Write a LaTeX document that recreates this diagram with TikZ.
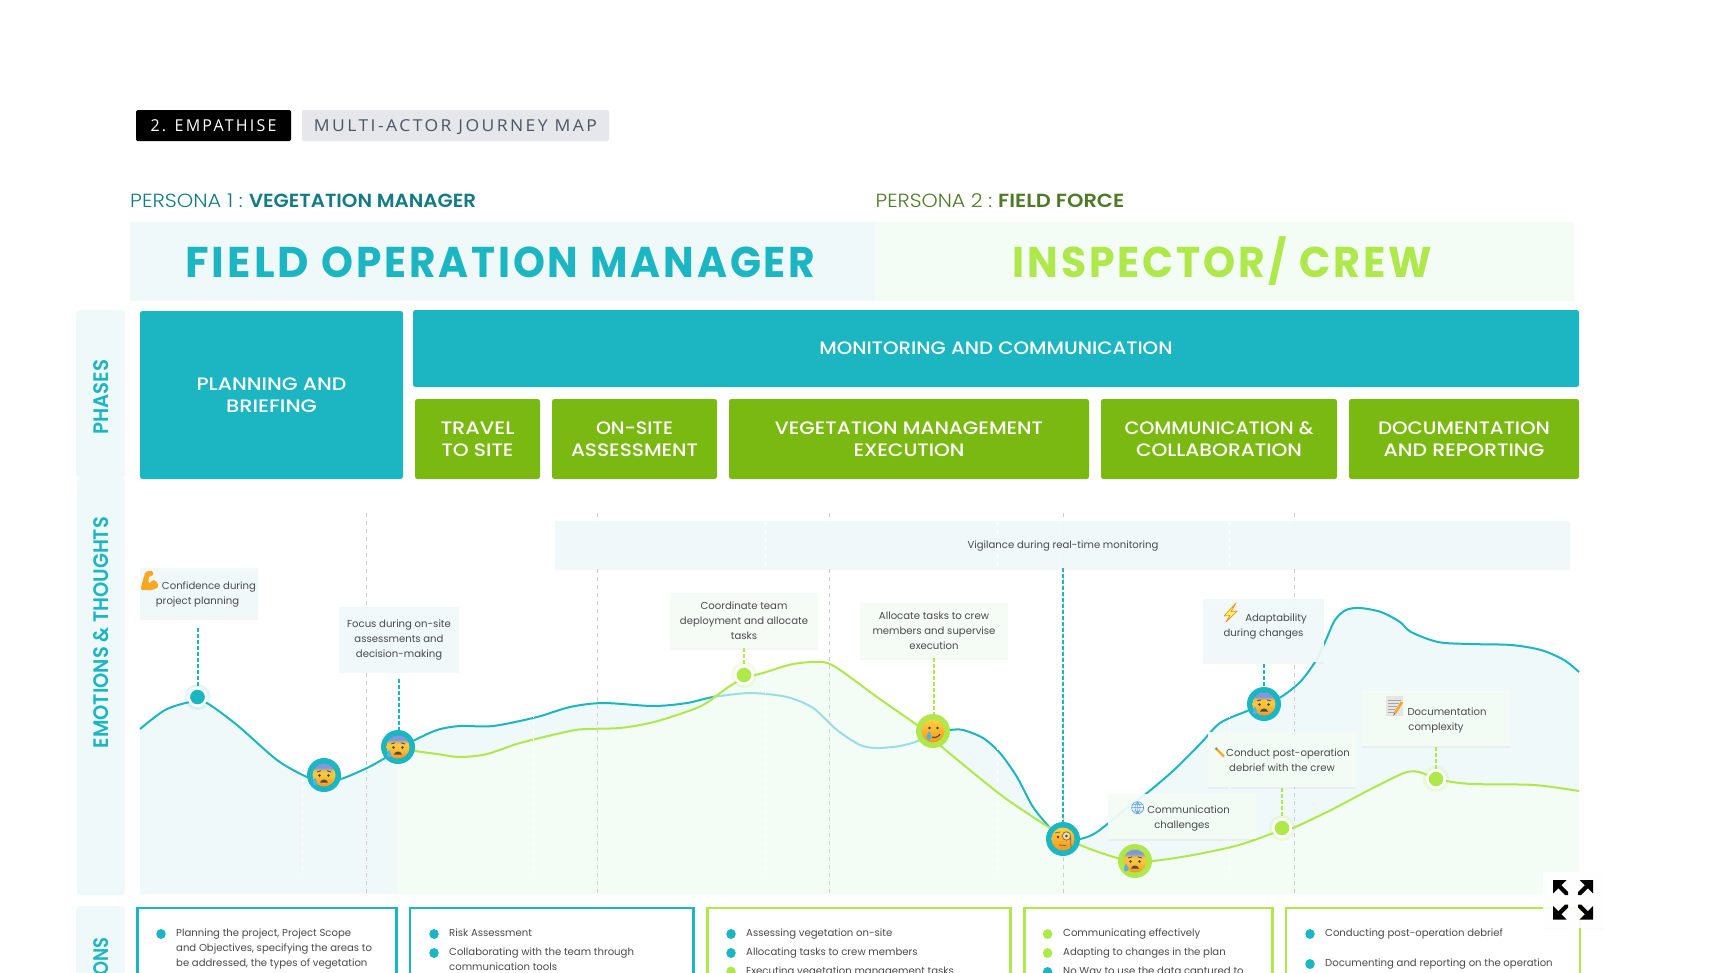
\documentclass[tikz,border=0pt]{standalone}
\usepackage{fontspec}
\usepackage{graphicx}
\usetikzlibrary{shadows,shapes.geometric}
\setmainfont{Poppins}
\newfontfamily\medf{Poppins Medium}
\newfontfamily\semif{Poppins SemiBold}
\newfontfamily\lightf{Poppins Light}
\newfontfamily\titlef{Poppins}[LetterSpace=7,UprightFont=* Bold]
\newfontfamily\tagf{Open Sans}[LetterSpace=14]
\definecolor{teal}{HTML}{1BB6C1}
\definecolor{lime}{HTML}{AEE84B}
\definecolor{leaf}{HTML}{7AB911}
\definecolor{paleblue}{HTML}{F0F9FA}
\definecolor{palegreen}{HTML}{F4FDF5}
\definecolor{bodytxt}{HTML}{4A4A4A}
\definecolor{ptealtxt}{HTML}{127B85}
\definecolor{pleaftxt}{HTML}{4F7A28}
\definecolor{tagbg}{HTML}{E5E7EB}
\definecolor{tagtxt}{HTML}{4B5563}
\definecolor{facetop}{HTML}{8298DC}
\definecolor{facemid}{HTML}{FBC53C}
\definecolor{facelow}{HTML}{F7951E}
\definecolor{faceyel}{HTML}{FFD23F}
\definecolor{dropblue}{HTML}{4FB3E8}
\definecolor{muscle}{HTML}{F7A823}
\pgfdeclareverticalshading{sweatshade}{100bp}{color(0bp)=(facelow); color(25bp)=(facelow); color(48bp)=(facemid); color(58bp)=(facemid); color(66bp)=(facetop); color(75bp)=(facetop); color(100bp)=(facetop)}
\newcommand{\fitw}[2]{\resizebox{#1pt}{\height}{#2}}
\tikzset{
  x=1pt,y=-1pt,
  block/.style={rounded corners=2.5pt,text=white,align=center,inner sep=0pt,font=\medf\fontsize{18}{22}\selectfont},
  sidepanel/.style={fill=paleblue,rounded corners=4pt},
  sidelabel/.style={rotate=90,text=teal,inner sep=0pt,font=\semif\fontsize{21}{25}\selectfont},
  txt/.style={text=bodytxt,align=center,inner sep=0pt,font=\fontsize{10.1}{15}\selectfont},
  listtxt/.style={text=bodytxt,align=left,anchor=base west,inner sep=0pt,font=\fontsize{10.1}{15}\selectfont},
  callout/.style={minimum width=#1,inner sep=0pt,drop shadow={shadow xshift=0pt,shadow yshift=-2pt,opacity=.07}},
  cblue/.style={fill=paleblue,fill opacity=.93},
  cgreen/.style={fill=palegreen,fill opacity=.93},
  guide/.style={draw=black!20,line width=.8pt,dash pattern=on 4pt off 4pt},
  wguide/.style={draw=white,line width=.8pt,dash pattern=on 4pt off 4pt},
  tdash/.style={draw=teal,line width=2pt,dash pattern=on 3.5pt off 2.5pt},
  gdash/.style={draw=lime,line width=2pt,dash pattern=on 3.5pt off 2.5pt},
  emoring/.style={circle,minimum size=34pt,inner sep=0pt},
  dotmark/.style={circle,minimum size=17.5pt,inner sep=0pt,draw=white,line width=2.6pt},
  frame/.style={line width=2.6pt,fill=white},
  bul/.style={ellipse,minimum width=9.5pt,minimum height=10pt,inner sep=0pt},
}
\def\bluepts{(140,729) (165,710) (190,702) (205,702) (237,725) (277,760) (307,777) (324,781) (341,779) (367,768) (385,758) (398,750) (413,741) (437,730) (460,726) (493,726) (537,717) (570,707) (603,703) (653,706) (687,703) (713,697) (750,693) (787,697) (813,708) (837,730) (860,745) (877,748) (900,746) (918,741) (933,733) (950,730) (963,730) (983,738) (1000,753) (1017,777) (1033,807) (1052,830) (1063,839) (1080,839) (1097,832) (1128,807) (1147,793) (1174,770) (1201,743) (1220,723) (1247,711) (1264,704) (1281,697) (1300,682) (1315,662) (1325,642) (1335,620) (1346,610) (1360,608) (1381,612) (1400,622) (1411,632) (1438,642) (1469,644) (1511,645) (1541,650) (1564,660) (1579,672)}
\def\greenpts{(398,748) (415,751) (437,754) (460,757) (487,754) (520,743) (570,731) (587,729) (620,728) (650,723) (677,715) (703,705) (727,688) (744,678) (763,673) (793,664) (823,662) (840,670) (877,697) (917,725) (933,738) (942,747) (997,792) (1027,813) (1050,828) (1080,845) (1117,858) (1135,861) (1153,861) (1193,855) (1239,845) (1282,830) (1293,828) (1331,810) (1369,790) (1404,773) (1419,772) (1436,779) (1446,781) (1472,784) (1534,785) (1579,791)}
\def\lightpts{(713,697) (750,693) (787,697) (813,708) (837,730) (860,745) (877,748) (900,746) (918,741) (933,733)}
\newcommand{\sweatface}[1]{%
  \begin{scope}[shift={#1}]
    \shade[shading=sweatshade] (0,0) circle[radius=11.5];
    \fill[black!75] (-4.5,0.5) circle[radius=1.3] (4.5,0.5) circle[radius=1.3];
    \draw[black!70,line width=.8pt] (-7,-3) -- (-3,-4.2) (7,-3) -- (3,-4.2);
    \fill[black!70] (-4,7.5) .. controls (-2.5,3.5) and (2.5,3.5) .. (4,7.5) -- cycle;
    \fill[dropblue] (-9,2.5) .. controls (-11.5,6.5) and (-12,10.5) .. (-9,10.5) .. controls (-6,10.5) and (-6.5,6.5) .. (-9,2.5) -- cycle;
  \end{scope}}
\newcommand{\tearface}[1]{%
  \begin{scope}[shift={#1}]
    \shade[top color=faceyel,bottom color=facelow] (0,0) circle[radius=11.5];
    \fill[black!75] (-3.5,-3) circle[radius=1.4] (4.5,-3) circle[radius=1.4];
    \draw[black!75,line width=1pt] (-1,6) .. controls (3,7.5) and (6,5) .. (7,3);
    \fill[dropblue] (-4,0) .. controls (-7,5) and (-7,9) .. (-4,9) .. controls (-1,9) and (-1,5) .. (-4,0) -- cycle;
  \end{scope}}
\newcommand{\monoface}[1]{%
  \begin{scope}[shift={#1}]
    \shade[top color=faceyel,bottom color=facelow] (0,0) circle[radius=11.5];
    \fill[black!75] (-5,-2) circle[radius=1.3];
    \draw[black!55,line width=.8pt,fill=white,fill opacity=.45] (3.5,-3) circle[radius=4.2];
    \fill[black!75] (3.5,-3) circle[radius=1.3];
    \draw[black!60,line width=.8pt] (-8,-6) -- (-3,-7) (-4,6) -- (3,6.5) (7.5,-2) -- (8,9);
  \end{scope}}
\newcommand{\expandarrow}[4]{%
  \begin{scope}[shift={(#1,#2)},xscale=#3,yscale=#4]
    \fill[black] (0,0) -- (13.5,0) -- (0,13.5) -- cycle;
    \fill[black] (4,7) -- (7,4) -- (15,12) -- (15,15) -- (12,15) -- cycle;
  \end{scope}}
\begin{document}
\begin{tikzpicture}
\useasboundingbox (0,0) rectangle (1728,972);
\begin{scope}
\clip (0,0) rectangle (1728,972);
\fill[white] (0,0) rectangle (1728,972);

% header tags
\node[fill=black,rounded corners=1.5pt,minimum width=155pt,minimum height=31pt,inner sep=0pt,text=white,font=\tagf\fontsize{16.4}{18}\selectfont] (tagA) at (213.5,125.5) {\raisebox{-5.8pt}[0pt][0pt]{\fitw{126}{2. EMPATHISE}}};
\node[fill=tagbg,rounded corners=1.5pt,minimum width=307pt,minimum height=31pt,inner sep=0pt,text=tagtxt,font=\tagf\fontsize{16.4}{18}\selectfont] (tagB) at (455.5,125.5) {\raisebox{-5.8pt}[0pt][0pt]{\fitw{283}{MULTI-ACTOR JOURNEY MAP}}};

% persona labels
\node[anchor=base west,inner sep=0pt,text=ptealtxt,font=\fontsize{19}{22}\selectfont] (p1) at (130,207) {\fitw{112.6}{\lightf PERSONA 1 :}\hspace{6.2pt}\fitw{227}{\semif VEGETATION MANAGER}};
\node[anchor=base west,inner sep=0pt,text=pleaftxt,font=\fontsize{19}{22}\selectfont] (p2) at (875.5,207) {\fitw{116.5}{\lightf PERSONA 2 :}\hspace{6pt}\fitw{126}{\semif FIELD FORCE}};

% title bars
\node[fill=paleblue,minimum width=745pt,minimum height=79pt,inner sep=0pt,anchor=north west,rounded corners=1pt] (t1) at (130,222) {};
\node[fill=palegreen,minimum width=699pt,minimum height=79pt,inner sep=0pt,anchor=north west,rounded corners=1pt] (t2) at (875,222) {};
\node[anchor=base west,inner sep=0pt,text=teal,font=\titlef\fontsize{43}{50}\selectfont] (t1t) at (185,277) {\fitw{124}{FIELD} \fitw{257}{OPERATION} \fitw{225}{MANAGER}};
\node[anchor=base west,inner sep=0pt,text=lime,font=\titlef\fontsize{43}{50}\selectfont] (t2t) at (1012.7,277) {\fitw{274}{INSPECTOR/} \fitw{133}{CREW}};

% side panels
\fill[sidepanel] (76,310) rectangle (125,478);
\fill[sidepanel] (77,478) rectangle (125,895);
\fill[sidepanel] (76,906) rectangle (125,990);
\node[sidelabel] (s1) at (101,397) {\fitw{75}{PHASES}};
\node[sidelabel] (s2) at (101,632.5) {\fitw{231}{EMOTIONS \& THOUGHTS}};
\node[sidelabel,anchor=east] (s3) at (101,937) {\fitw{38}{ONS}};

% phase blocks
\node[block,fill=teal,minimum width=263pt,minimum height=168pt] (plan) at (271.5,395) {\fitw{150}{PLANNING AND}\\\fitw{91}{BRIEFING}};
\node[block,fill=teal,minimum width=1166pt,minimum height=77pt] (mon) at (996,348.5) {\raisebox{-6.3pt}[0pt][0pt]{\fitw{353}{MONITORING AND COMMUNICATION}}};
\node[block,fill=leaf,minimum width=125pt,minimum height=80pt] (ph1) at (477.5,439) {\fitw{74}{TRAVEL}\\\fitw{72}{TO SITE}};
\node[block,fill=leaf,minimum width=165pt,minimum height=80pt] (ph2) at (634.5,439) {\fitw{77}{ON-SITE}\\\fitw{127}{ASSESSMENT}};
\node[block,fill=leaf,minimum width=360pt,minimum height=80pt] (ph3) at (909,439) {\fitw{268}{VEGETATION MANAGEMENT}\\\fitw{111}{EXECUTION}};
\node[block,fill=leaf,minimum width=236pt,minimum height=80pt] (ph4) at (1219,439) {\fitw{189}{COMMUNICATION \&}\\\fitw{166}{COLLABORATION}};
\node[block,fill=leaf,minimum width=230pt,minimum height=80pt] (ph5) at (1464,439) {\fitw{172}{DOCUMENTATION}\\\fitw{161}{AND REPORTING}};

% emotion area
\fill[paleblue] plot[smooth,tension=.5] coordinates {\bluepts} -- (1579,894) -- (140,894) -- cycle;
\draw[teal,line width=2pt] plot[smooth,tension=.5] coordinates {\bluepts};
\fill[palegreen] plot[smooth,tension=.5] coordinates {\greenpts} -- (1579,894) -- (398,894) -- cycle;
\draw[teal!45!white,line width=2pt] plot[smooth,tension=.5] coordinates {\lightpts};
\draw[lime,line width=2pt] plot[smooth,tension=.5] coordinates {\greenpts};

% guides
\foreach \gx in {366,597,829,1063,1294} \draw[guide] (\gx,513) -- (\gx,893);
\foreach \gx in {302,533,765,997,1229} \draw[wguide] (\gx,522) -- (\gx,875);

% vigilance band
\node[callout=1015pt,cblue,minimum height=47pt,anchor=north west] (vig) at (555,521) {};
\foreach \gx in {765,997,1229} \draw[wguide] (\gx,522) -- (\gx,567);
\node[txt] (vigt) at (1063,546.5) {Vigilance during real-time monitoring};

% halos
\fill[teal,opacity=.12] (197.5,697) circle[radius=13];
\fill[lime,opacity=.15] (744,675) circle[radius=13];
\fill[lime,opacity=.15] (1282,828) circle[radius=13];
\fill[lime,opacity=.15] (1436,779) circle[radius=13];

% markers
\node[dotmark,fill=teal] (m1) at (197.5,697) {};
\node[emoring,fill=teal] (m2) at (324,775) {};
\node[emoring,fill=teal] (m3) at (398,747) {};
\node[dotmark,fill=lime] (m4) at (744,675) {};
\node[emoring,fill=lime] (m5) at (933,731) {};
\node[emoring,fill=teal] (m6) at (1063,839) {};
\node[emoring,fill=lime] (m7) at (1135,861) {};
\node[emoring,fill=teal] (m8) at (1264,704) {};
\node[dotmark,fill=lime] (m9) at (1282,828) {};
\node[dotmark,fill=lime] (m10) at (1436,779) {};
\sweatface{(324,775)}
\sweatface{(398,747)}
\tearface{(933,731)}
\monoface{(1063,839)}
\sweatface{(1135,861)}
\sweatface{(1264,704)}

% callouts
\node[callout=118pt,cblue,minimum height=50pt,anchor=north west] (c1) at (140,568) {};
\node[callout=120pt,cblue,minimum height=64pt,anchor=north west] (c2) at (339,607) {};
\node[callout=148pt,cgreen,minimum height=55pt,anchor=north west] (c3) at (670,593) {};
\node[callout=148pt,cgreen,minimum height=55pt,anchor=north west] (c4) at (860,603) {};
\node[callout=121pt,cblue,minimum height=63pt,anchor=north west] (c5) at (1203,599) {};
\node[callout=148pt,cgreen,minimum height=55pt,anchor=north west] (c6) at (1208,732) {};
\node[callout=148.5pt,cgreen,minimum height=55pt,anchor=north west] (c7) at (1361.5,691) {};
\node[callout=148pt,cgreen,minimum height=45pt,anchor=north west] (c8) at (1108,794) {};

% callout connectors
\draw[tdash,shorten <=10pt] (m1 |- c1.south) -- (m1);
\draw[tdash,shorten <=8pt] (c2.south) -- (c2.south |- m3.north);
\draw[gdash] (m4 |- c3.south) -- (m4);
\draw[gdash] (c4.south) -- (c4.south |- m5.north);
\draw[tdash,shorten <=2pt] (m8 |- c5.south) -- (m8.north);
\draw[gdash,shorten <=1pt] (c6.south) -- (c6.south |- m9.north);
\draw[gdash,shorten <=1pt] (m10 |- c7.south) -- (m10);
\draw[tdash] (m6 |- vig.south) -- (m6.north);

% callout text
\node[txt] (ct1a) at (209,587) {Confidence during};
\node[txt] (ct1b) at (197.5,602) {project planning};
\node[txt] (ct2) at (399,640.5) {Focus during on-site\\assessments and\\decision-making};
\node[txt] (ct3) at (744,621) {Coordinate team\\deployment and allocate\\tasks};
\node[txt] (ct4) at (934,631) {Allocate tasks to crew\\members and supervise\\execution};
\node[txt] (ct5a) at (1276,619) {Adaptability};
\node[txt] (ct5b) at (1263.5,634.5) {during changes};
\node[txt] (ct6a) at (1288,753.5) {Conduct post-operation};
\node[txt] (ct6b) at (1282,768) {debrief with the crew};
\node[txt] (ct7a) at (1447,712) {Documentation};
\node[txt] (ct7b) at (1436,727.5) {complexity};
\node[txt] (ct8a) at (1188.5,810) {Communication};
\node[txt] (ct8b) at (1182,826.5) {challenges};

% small icons
\fill[muscle] plot[smooth cycle,tension=.6] coordinates {(141,589) (143,580) (146,572) (152,571) (153,575) (149,577) (149,583) (154,580) (158,584) (157,588) (151,590) (144,590)};
\draw[orange!90!yellow,fill=yellow!55,line width=.7pt,line join=round] (1236,603) -- (1224,616) -- (1230,615.5) -- (1226,622) -- (1237,611) -- (1231,611.5) -- cycle;
\draw[muscle,line width=2.4pt] (1217,749.5) -- (1224,756.5);
\draw[black!45,line width=2.4pt] (1215.5,748) -- (1217,749.5);
\fill[black!10] (1386,696) rectangle (1403,716);
\draw[black!35,line width=.5pt] (1388,700) -- (1401,700) (1388,703) -- (1399,703) (1388,706) -- (1397,706) (1388,709) -- (1395,709) (1388,712) -- (1394,712);
\draw[muscle,line width=2.6pt] (1402,702) -- (1395,713);
\draw[black!60,line width=.8pt] (1395,713) -- (1393.5,715.5);
\draw[teal!60!blue!70!white,line width=.6pt,fill=paleblue] (1137.6,807.7) circle[radius=6];
\draw[teal!60!blue!70!white,line width=.5pt] (1131.6,807.7) -- (1143.6,807.7) (1132.5,804.5) -- (1142.7,804.5) (1132.5,811) -- (1142.7,811) (1137.6,801.7) -- (1137.6,813.7) (1137.6,801.7) .. controls (1134,805) and (1134,810) .. (1137.6,813.7) (1137.6,801.7) .. controls (1141,805) and (1141,810) .. (1137.6,813.7);

% action frames
\draw[frame,draw=teal] (137.3,908) rectangle (396.5,1000);
\draw[frame,draw=teal] (410,908) rectangle (693.5,1000);
\draw[frame,draw=lime] (707.5,908) rectangle (1010.5,1000);
\draw[frame,draw=lime] (1024.5,908) rectangle (1272.5,1000);
\draw[frame,draw=lime] (1286,908) rectangle (1580,1000);

% action lists
\node[bul,fill=teal] (b1) at (161,934) {};
\node[listtxt,anchor=north west] (l1) at (176,928.5) {Planning the project, Project Scope\\and Objectives, specifying the areas to\\be addressed, the types of vegetation};
\node[bul,fill=teal] (b2) at (434,934) {};
\node[listtxt] (l2) at (449,936.5) {Risk Assessment};
\node[bul,fill=teal] (b3) at (434,953) {};
\node[listtxt,anchor=north west] (l3) at (449,947.5) {Collaborating with the team through\\communication tools};
\node[bul,fill=teal] (b4) at (731,934) {};
\node[listtxt] (l4) at (746,936.5) {Assessing vegetation on-site};
\node[bul,fill=teal] (b5) at (731,953) {};
\node[listtxt] (l5) at (746,955.5) {Allocating tasks to crew members};
\node[bul,fill=lime] (b6) at (731,971.5) {};
\node[listtxt] (l6) at (746,974) {Executing vegetation management tasks};
\node[bul,fill=lime] (b7) at (1047.6,934) {};
\node[listtxt] (l7) at (1063,936.5) {Communicating effectively};
\node[bul,fill=lime] (b8) at (1047.6,953) {};
\node[listtxt] (l8) at (1063,955.5) {Adapting to changes in the plan};
\node[bul,fill=teal] (b9) at (1047.6,972) {};
\node[listtxt] (l9) at (1063,974) {No Way to use the data captured to};
\node[bul,fill=teal] (b10) at (1310,934) {};
\node[listtxt] (l10) at (1325,936.5) {Conducting post-operation debrief};
\node[bul,fill=teal] (b11) at (1310,964) {};
\node[listtxt] (l11) at (1325,966.5) {Documenting and reporting on the operation};

% expand button
\node[fill=white,fill opacity=.88,minimum width=59.6pt,minimum height=56pt,inner sep=0pt,anchor=north west,drop shadow={shadow xshift=0pt,shadow yshift=-1pt,opacity=.04}] (btn) at (1543,872) {};
\expandarrow{1553}{880}{1}{1}
\expandarrow{1593}{880}{-1}{1}
\expandarrow{1553}{919.5}{1}{-1}
\expandarrow{1593}{919.5}{-1}{-1}
\end{scope}
\end{tikzpicture}
\end{document}
